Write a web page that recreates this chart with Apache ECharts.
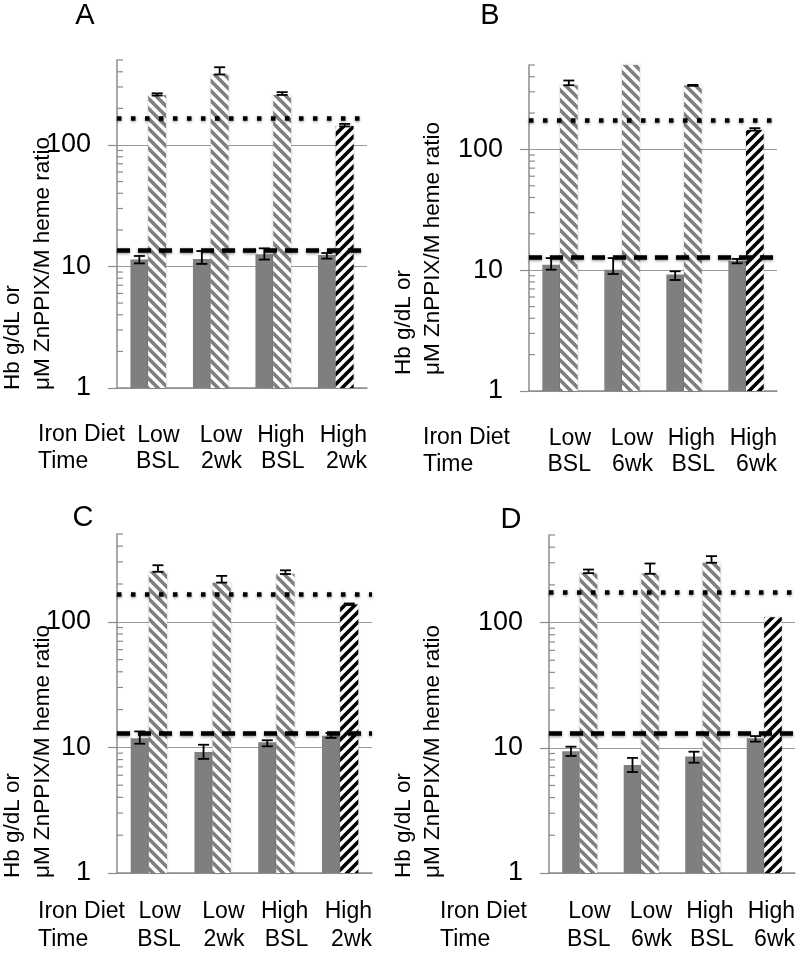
<!DOCTYPE html>
<html><head><meta charset="utf-8">
<script src="https://cdn.jsdelivr.net/npm/echarts@6/dist/echarts.min.js"></script>
<style>html,body{margin:0;padding:0;background:#fff}#c{width:800px;height:958px}</style>
</head><body><div id="c"></div>
<script>
// ---------- data ----------
const panelLetters = ['A', 'B', 'C', 'D'];
const dietLabels = ['Low', 'Low', 'High', 'High'];
const timeA = ['BSL', '2wk', 'BSL', '2wk'];
const timeB = ['BSL', '6wk', 'BSL', '6wk'];
const timeC = ['BSL', '2wk', 'BSL', '2wk'];
const timeD = ['BSL', '6wk', 'BSL', '6wk'];
const rowLabels = ['Iron Diet', 'Time'];
const yTitleLines = ['Hb g/dL or', 'μM ZnPPIX/M heme ratio'];
const yTickValues = [1, 10, 100];
const yMinorTicks = [2, 3, 4, 5, 6, 7, 8, 9, 20, 30, 40, 50, 60, 70, 80, 90, 200, 300, 400, 500];

// Hb (solid gray bars) with error limits
const hbA = [11.4, 11.5, 12.6, 12.4];
const hbLoA = [10.6, 10.5, 11.4, 11.6];
const hbHiA = [12.2, 13.4, 14.1, 12.9];
const hbB = [11.1, 10.1, 9.2, 12.0];
const hbLoB = [10.1, 9.3, 8.3, 11.4];
const hbHiB = [12.6, 12.6, 9.8, 12.4];
const hbC = [11.8, 9.2, 11.0, 12.4];
const hbLoC = [10.7, 8.1, 10.2, 11.9];
const hbHiC = [13.4, 10.5, 11.4, 13.0];
const hbD = [9.4, 7.3, 8.5, 11.9];
const hbLoD = [8.6, 6.4, 7.6, 11.2];
const hbHiD = [10.2, 8.3, 9.3, 12.4];

// ZnPPIX/heme (hatched bars) with error limits
const znA = [256, 380, 258, 143];
const znLoA = [255, 380, 258, 142];
const znHiA = [266, 436, 272, 149];
const znB = [340, 500, 338, 145];
const znLoB = [340, null, 336, 143];
const znHiB = [372, null, 342, 150];
const znC = [250, 205, 240, 137];
const znLoC = [250, 205, 240, 136];
const znHiC = [282, 232, 257, 140];
const znD = [248, 245, 300, 110];
const znLoD = [248, 245, 300, null];
const znHiD = [265, 296, 339, null];

// reference lines
const hbRef = [13.5, 12.9, 13.0, 13.0];
const znRef = [166, 176, 165, 174];

// ---------- layout ----------
const panels = [
  {time: timeA, hb: hbA, hbLo: hbLoA, hbHi: hbHiA, zn: znA, znLo: znLoA, znHi: znHiA,
   grid: {left: 117, top: 60, width: 250, height: 328}, labMargin: 34, labLH: 26.5,
   letter: [85, 16], rowX: 38, rowY: [435, 461.5], titleX: [13, 43], titleY: 390},
  {time: timeB, hb: hbB, hbLo: hbLoB, hbHi: hbHiB, zn: znB, znLo: znLoB, znHi: znHiB,
   grid: {left: 529, top: 65, width: 248, height: 326}, labMargin: 34, labLH: 26.5,
   letter: [490, 16], rowX: 423, rowY: [438, 464.5], titleX: [404, 433], titleY: 375},
  {time: timeC, hb: hbC, hbLo: hbLoC, hbHi: hbHiC, zn: znC, znLo: znLoC, znHi: znHiC,
   grid: {left: 117, top: 534, width: 255, height: 339}, labMargin: 25, labLH: 28,
   letter: [83, 518], rowX: 38, rowY: [912, 940], titleX: [13, 43], titleY: 878},
  {time: timeD, hb: hbD, hbLo: hbLoD, hbHi: hbHiD, zn: znD, znLo: znLoD, znHi: znHiD,
   grid: {left: 549, top: 535, width: 246, height: 338}, labMargin: 25, labLH: 28,
   letter: [511, 520], rowX: 440, rowY: [912, 940], titleX: [404, 433], titleY: 878}
];

const FONT = "'Liberation Sans', Arial, sans-serif";
const GRAY = '#7f7f7f';
const AXIS_GRAY = '#8c8c8c';
const BAR_FRAC = 0.285;

function makeHatch(color, dir) {
  const s = 10;
  const cv = document.createElement('canvas');
  cv.width = s; cv.height = s;
  const ctx = cv.getContext('2d');
  ctx.fillStyle = '#fff';
  ctx.fillRect(0, 0, s, s);
  ctx.strokeStyle = color;
  ctx.lineWidth = 3.6;
  ctx.beginPath();
  for (const o of [-s, 0, s]) {
    if (dir === 'back') { ctx.moveTo(o - 2, -2); ctx.lineTo(o + s + 2, s + 2); }
    else { ctx.moveTo(o - 2, s + 2); ctx.lineTo(o + s + 2, -2); }
  }
  ctx.stroke();
  return cv;
}
const grayHatch = {image: makeHatch(GRAY, 'back'), repeat: 'repeat'};
const blackHatch = {image: makeHatch('#000', 'fwd'), repeat: 'repeat'};

function errRender(sign) {
  return function (params, api) {
    const lo = api.value(1), hi = api.value(2);
    if (lo == null || hi == null || isNaN(lo) || isNaN(hi)) return null;
    const c = api.value(0);
    const p0 = api.coord([c, lo]);
    const p1 = api.coord([c, hi]);
    const band = params.coordSys.width / 4;
    const x = p0[0] + sign * band * BAR_FRAC / 2;
    const cap = 5.5;
    const st = {stroke: '#000', lineWidth: 1.8};
    return {type: 'group', children: [
      {type: 'line', shape: {x1: x, y1: p0[1], x2: x, y2: p1[1]}, style: st},
      {type: 'line', shape: {x1: x - cap, y1: p0[1], x2: x + cap, y2: p0[1]}, style: st},
      {type: 'line', shape: {x1: x - cap, y1: p1[1], x2: x + cap, y2: p1[1]}, style: st}
    ]};
  };
}
function minorRender(params, api) {
  const p = api.coord([0, api.value(1)]);
  const x0 = params.coordSys.x;
  return {type: 'line', shape: {x1: x0, y1: p[1], x2: x0 + 6, y2: p[1]},
          style: {stroke: AXIS_GRAY, lineWidth: 1.2}};
}

const grid = [], xAxis = [], yAxis = [], series = [], graphic = [];
panels.forEach((pn, i) => {
  grid.push(Object.assign({containLabel: false}, pn.grid));
  const labels = dietLabels.map((d, k) => d + '\n' + pn.time[k]);
  xAxis.push({type: 'category', gridIndex: i, data: labels,
    axisLine: {show: true, lineStyle: {color: AXIS_GRAY, width: 1.5}},
    axisTick: {show: false}, axisLabel: {show: false}, splitLine: {show: false}});
  xAxis.push({type: 'category', gridIndex: i, boundaryGap: false, position: 'bottom',
    data: [''].concat(labels),
    axisLine: {show: false}, axisTick: {show: false}, splitLine: {show: false},
    axisLabel: {show: true, interval: 0, align: 'right', margin: pn.labMargin, color: '#000',
      fontFamily: FONT, fontSize: 23, lineHeight: pn.labLH}});
  yAxis.push({type: 'log', logBase: 10, gridIndex: i, min: 1, max: 500,
    axisLine: {show: true, lineStyle: {color: AXIS_GRAY, width: 1.5}},
    axisTick: {show: true, inside: false, length: 9, customValues: yTickValues,
      lineStyle: {color: AXIS_GRAY, width: 1.2}},
    minorTick: {show: false},
    axisLabel: {show: true, customValues: yTickValues, margin: 26,
      color: '#000', fontFamily: FONT, fontSize: 27, formatter: v => String(v)},
    splitLine: {show: true, lineStyle: {color: '#9a9a9a', width: 1}}});

  const xi = 2 * i;
  series.push({type: 'bar', xAxisIndex: xi, yAxisIndex: i, data: pn.hb,
    barWidth: (BAR_FRAC * 100) + '%', barGap: '0%', itemStyle: {color: GRAY},
    markLine: {silent: true, symbol: 'none', z: 5, label: {show: false},
      lineStyle: {color: '#000', width: 4.5, type: [13, 8], cap: 'butt',
        shadowBlur: 3, shadowColor: 'rgba(0,0,0,0.45)', shadowOffsetY: 1},
      data: [{yAxis: hbRef[i]}]}});
  series.push({type: 'bar', xAxisIndex: xi, yAxisIndex: i,
    data: pn.zn.map((v, k) => k === 3 ? {value: v, itemStyle: {color: blackHatch}} : v),
    barWidth: (BAR_FRAC * 100) + '%', barGap: '0%',
    itemStyle: {color: grayHatch, shadowBlur: 2, shadowColor: 'rgba(0,0,0,0.25)'},
    markLine: {silent: true, symbol: 'none', z: 5, label: {show: false},
      lineStyle: {color: '#000', width: 4.5, type: [4.5, 9.5], cap: 'butt',
        shadowBlur: 3, shadowColor: 'rgba(0,0,0,0.45)', shadowOffsetY: 1},
      data: [{yAxis: znRef[i]}]}});
  series.push({type: 'custom', xAxisIndex: xi, yAxisIndex: i, z: 6, clip: false,
    renderItem: errRender(-1), data: pn.hb.map((v, k) => [k, pn.hbLo[k], pn.hbHi[k]])});
  series.push({type: 'custom', xAxisIndex: xi, yAxisIndex: i, z: 6, clip: false,
    renderItem: errRender(1), data: pn.zn.map((v, k) => [k, pn.znLo[k], pn.znHi[k]])});
  series.push({type: 'custom', xAxisIndex: xi, yAxisIndex: i, z: 4, clip: false,
    renderItem: minorRender, data: yMinorTicks.map(v => [0, v])});

  graphic.push({type: 'text', x: pn.letter[0], y: pn.letter[1],
    style: {text: panelLetters[i], fill: '#000', font: '29px ' + FONT,
      textAlign: 'center', textVerticalAlign: 'middle'}});
  rowLabels.forEach((t, r) => graphic.push({type: 'text', x: pn.rowX, y: pn.rowY[r],
    style: {text: t, fill: '#000', font: '23px ' + FONT, textAlign: 'left', textVerticalAlign: 'middle'}}));
  yTitleLines.forEach((t, r) => graphic.push({type: 'text', x: pn.titleX[r], y: pn.titleY,
    rotation: Math.PI / 2,
    style: {text: t, fill: '#000', font: '22.5px ' + FONT, textAlign: 'left', textVerticalAlign: 'middle'}}));
});

const chart = echarts.init(document.getElementById('c'), null, {renderer: 'canvas'});
chart.setOption({animation: false, backgroundColor: '#fff', grid, xAxis, yAxis, series, graphic});
</script>
</body></html>
